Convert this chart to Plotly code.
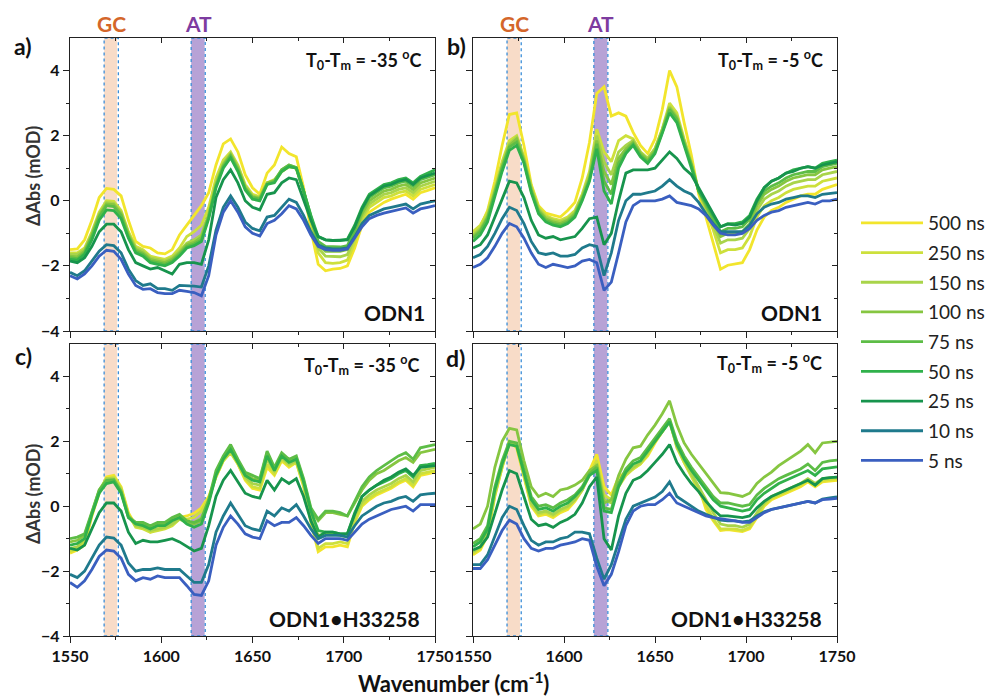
import plotly.graph_objects as go

# the page body has an 8 px margin, so the figure is drawn 8 px in from the window corner
OFF = 8
W, H = 995 - OFF, 697 - OFF
FONT = "Lato"

WN = [1550, 1554, 1558, 1562, 1566, 1570, 1574, 1578, 1582, 1586,
      1590, 1594, 1598, 1602, 1606, 1610, 1614, 1618, 1622, 1626,
      1630, 1634, 1638, 1642, 1646, 1650, 1654, 1658, 1662, 1666,
      1670, 1674, 1678, 1682, 1686, 1690, 1694, 1698, 1702, 1706,
      1710, 1714, 1718, 1722, 1726, 1730, 1734, 1738, 1742, 1746,
      1750]

LABELS = ["500 ns", "250 ns", "150 ns", "100 ns", "75 ns", "50 ns", "25 ns", "10 ns", "5 ns"]
COLORS = ["#f2e52c", "#cde03c", "#a9d44a", "#86c641", "#5dbd46", "#30b14b", "#17944d", "#1f7a8c", "#3a5fc0"]

# ---- panel a: ODN1, T0-Tm = -35 C ----
a_500 = [-1.5, -1.48, -1.2, -0.6, 0.1, 0.38, 0.35, 0.15, -0.6, -1.25,
         -1.4, -1.45, -1.6, -1.63, -1.5, -1.05, -0.75, -0.45, -0.15, 0.25,
         1.1, 1.75, 1.9, 1.5, 0.8, 0.4, 0.2, 0.85, 1.1, 1.65,
         1.45, 1.35, 0.4, -0.9, -1.95, -2.15, -2.1, -2.08, -2.0, -1.45,
         -0.75, -0.35, -0.2, -0.05, 0.05, 0.12, 0.2, 0.05, 0.25, 0.32,
         0.4]
a_250 = [-1.6, -1.6, -1.45, -0.95, -0.35, 0.0, -0.02, -0.3, -0.95, -1.4,
         -1.5, -1.7, -1.75, -1.8, -1.7, -1.45, -1.1, -0.95, -0.75, -0.2,
         0.7, 1.25, 1.5, 1.1, 0.5, 0.2, 0.12, 0.55, 0.65, 0.9,
         1.05, 1.0, 0.3, -0.7, -1.6, -1.9, -1.92, -1.9, -1.82, -1.3,
         -0.6, -0.2, -0.05, 0.1, 0.15, 0.25, 0.3, 0.15, 0.35, 0.42,
         0.5]
a_150 = [-1.65, -1.65, -1.5, -1.0, -0.4, -0.05, -0.08, -0.35, -1.0, -1.45,
         -1.55, -1.75, -1.8, -1.85, -1.75, -1.55, -1.3, -1.2, -1.05, -0.4,
         0.55, 1.15, 1.45, 1.05, 0.45, 0.15, 0.1, 0.55, 0.6, 0.9,
         1.05, 1.0, 0.3, -0.6, -1.45, -1.7, -1.72, -1.72, -1.65, -1.15,
         -0.5, -0.1, 0.05, 0.2, 0.25, 0.35, 0.4, 0.25, 0.45, 0.52,
         0.6]
a_100 = [-1.7, -1.72, -1.55, -1.05, -0.45, -0.1, -0.12, -0.4, -1.05, -1.5,
         -1.6, -1.8, -1.85, -1.9, -1.8, -1.6, -1.35, -1.28, -1.12, -0.45,
         0.5, 1.1, 1.42, 1.0, 0.4, 0.12, 0.08, 0.55, 0.62, 0.95,
         1.1, 1.02, 0.3, -0.55, -1.35, -1.55, -1.55, -1.55, -1.5, -1.0,
         -0.4, 0.0, 0.15, 0.3, 0.35, 0.45, 0.5, 0.35, 0.55, 0.62,
         0.7]
a_75 = [-1.75, -1.78, -1.6, -1.1, -0.5, -0.15, -0.18, -0.45, -1.1, -1.55,
        -1.65, -1.85, -1.9, -1.95, -1.85, -1.65, -1.4, -1.33, -1.2, -0.5,
        0.45, 1.05, 1.38, 0.95, 0.38, 0.1, 0.05, 0.5, 0.6, 0.95,
        1.1, 1.02, 0.3, -0.5, -1.25, -1.4, -1.42, -1.42, -1.38, -0.9,
        -0.3, 0.1, 0.25, 0.4, 0.45, 0.55, 0.6, 0.45, 0.65, 0.72,
        0.8]
a_50 = [-1.8, -1.82, -1.65, -1.2, -0.6, -0.28, -0.3, -0.55, -1.15, -1.6,
        -1.7, -1.9, -1.95, -2.0, -1.9, -1.7, -1.45, -1.38, -1.25, -0.55,
        0.4, 1.0, 1.32, 0.9, 0.33, 0.05, 0.0, 0.5, 0.55, 0.9,
        1.05, 1.0, 0.3, -0.45, -1.1, -1.2, -1.22, -1.22, -1.18, -0.75,
        -0.2, 0.2, 0.35, 0.5, 0.55, 0.65, 0.7, 0.55, 0.75, 0.85,
        0.95]
a_25 = [-1.85, -1.9, -1.75, -1.4, -0.95, -0.72, -0.72, -0.95, -1.5, -1.9,
        -2.0, -2.1, -2.05, -2.15, -2.25, -1.95, -1.9, -1.9, -1.95, -1.2,
        0.1, 0.65, 0.95, 0.55, 0.0, -0.2, -0.28, 0.2, 0.25, 0.55,
        0.7, 0.65, 0.0, -0.6, -1.1, -1.2, -1.22, -1.22, -1.2, -0.8,
        -0.25, 0.15, 0.3, 0.45, 0.5, 0.6, 0.65, 0.5, 0.7, 0.78,
        0.85]
a_10 = [-2.2, -2.3, -2.15, -1.85, -1.55, -1.35, -1.38, -1.6, -2.1, -2.45,
        -2.6, -2.55, -2.7, -2.7, -2.75, -2.6, -2.6, -2.62, -2.65, -2.0,
        -0.9, -0.2, 0.15, -0.2, -0.65, -0.85, -0.92, -0.5, -0.45, -0.2,
        0.05, -0.05, -0.45, -0.95, -1.35, -1.45, -1.48, -1.48, -1.45, -1.1,
        -0.7, -0.45, -0.35, -0.25, -0.2, -0.15, -0.1, -0.25, -0.1, -0.05,
        0.0]
a_5 = [-2.3, -2.4, -2.25, -2.0, -1.7, -1.52, -1.55, -1.8, -2.25, -2.6,
       -2.72, -2.7, -2.82, -2.85, -2.85, -2.75, -2.78, -2.82, -2.92, -2.3,
       -1.05, -0.35, 0.0, -0.35, -0.8, -1.0, -1.08, -0.7, -0.6, -0.4,
       -0.15, -0.25, -0.6, -1.05, -1.4, -1.5, -1.52, -1.52, -1.48, -1.15,
       -0.8, -0.55, -0.45, -0.38, -0.32, -0.28, -0.22, -0.38, -0.25, -0.2,
       -0.15]

# ---- panel b: ODN1, T0-Tm = -5 C ----
b_500 = [-1.05, -0.8, -0.3, 0.6, 1.7, 2.65, 2.7, 1.7, 0.5, -0.15,
         -0.38, -0.45, -0.5, -0.3, -0.05, 0.7, 1.8, 3.3, 3.5, 2.6,
         2.7, 2.6, 2.1, 1.7, 1.45, 1.9, 2.8, 4.0, 3.5, 2.4,
         1.4, 0.2, -0.5, -1.3, -2.1, -1.98, -1.95, -1.9, -1.5, -0.9,
         -0.5, -0.3, -0.2, -0.05, 0.05, 0.15, 0.2, 0.2, 0.35, 0.42,
         0.5]
b_250 = [-0.95, -0.75, -0.35, 0.4, 1.2, 1.85, 2.0, 1.35, 0.45, -0.2,
         -0.45, -0.55, -0.6, -0.5, -0.3, 0.2, 0.9, 2.2, 1.5, 1.2,
         1.85, 2.0, 1.9, 1.5, 1.3, 1.6, 2.2, 3.0, 2.7, 1.9,
         1.2, 0.3, -0.3, -0.9, -1.6, -1.5, -1.5, -1.45, -1.1, -0.5,
         -0.15, 0.0, 0.1, 0.25, 0.35, 0.4, 0.45, 0.45, 0.6, 0.65,
         0.7]
b_150 = [-1.05, -0.85, -0.45, 0.3, 1.1, 1.75, 1.95, 1.3, 0.4, -0.25,
         -0.5, -0.6, -0.65, -0.55, -0.35, 0.15, 0.8, 2.0, 1.2, 0.8,
         1.5, 1.7, 1.85, 1.5, 1.3, 1.6, 2.2, 2.9, 2.6, 1.85,
         1.15, 0.3, -0.2, -0.75, -1.3, -1.2, -1.2, -1.15, -0.85, -0.3,
         0.05, 0.2, 0.3, 0.45, 0.55, 0.6, 0.65, 0.65, 0.8, 0.85,
         0.9]
b_100 = [-1.1, -0.9, -0.5, 0.25, 1.05, 1.7, 1.9, 1.25, 0.35, -0.3,
         -0.55, -0.65, -0.7, -0.6, -0.4, 0.1, 0.7, 1.85, 0.9, 0.5,
         1.3, 1.6, 1.8, 1.45, 1.25, 1.55, 2.15, 2.85, 2.55, 1.8,
         1.1, 0.3, -0.15, -0.65, -1.1, -1.0, -1.0, -0.95, -0.7, -0.15,
         0.2, 0.35, 0.45, 0.6, 0.7, 0.75, 0.8, 0.8, 0.95, 1.0,
         1.05]
b_75 = [-1.15, -0.95, -0.55, 0.2, 1.0, 1.65, 1.8, 1.2, 0.3, -0.35,
        -0.6, -0.7, -0.75, -0.65, -0.45, 0.05, 0.65, 1.75, 0.6, 0.2,
        1.15, 1.5, 1.75, 1.4, 1.2, 1.5, 2.1, 2.8, 2.5, 1.75,
        1.1, 0.3, -0.1, -0.55, -0.95, -0.85, -0.85, -0.8, -0.55, -0.05,
        0.3, 0.45, 0.55, 0.7, 0.8, 0.85, 0.9, 0.9, 1.05, 1.1,
        1.15]
b_50 = [-1.25, -1.05, -0.65, 0.1, 0.9, 1.55, 1.7, 1.15, 0.25, -0.4,
        -0.65, -0.75, -0.8, -0.7, -0.5, 0.0, 0.6, 1.6, 0.3, -0.1,
        1.0, 1.45, 1.7, 1.35, 1.15, 1.45, 2.05, 2.7, 2.4, 1.7,
        1.05, 0.3, -0.05, -0.45, -0.8, -0.7, -0.7, -0.65, -0.45, 0.05,
        0.4, 0.6, 0.7, 0.85, 0.95, 1.0, 1.05, 1.0, 1.15, 1.2,
        1.25]
b_25 = [-1.45, -1.35, -1.05, -0.5, 0.1, 0.6, 0.55, 0.1, -0.6, -1.05,
        -1.15, -1.1, -1.2, -1.15, -1.1, -0.85, -0.55, -0.5, -1.35, -1.0,
        0.0, 0.85, 0.95, 0.95, 0.95, 1.0, 1.25, 1.5, 1.3, 1.0,
        0.8, 0.4, 0.0, -0.4, -0.8, -0.72, -0.75, -0.7, -0.5, 0.0,
        0.4, 0.6, 0.7, 0.85, 0.9, 1.0, 1.05, 1.0, 1.1, 1.15,
        1.2]
b_10 = [-1.75, -1.65, -1.4, -1.0, -0.55, -0.2, -0.3, -0.7, -1.25, -1.6,
        -1.65, -1.6, -1.7, -1.7, -1.65, -1.45, -1.35, -1.4, -2.3, -1.6,
        -0.6, 0.0, 0.2, 0.2, 0.25, 0.3, 0.45, 0.65, 0.45, 0.3,
        0.2, -0.05, -0.4, -0.7, -0.95, -0.95, -0.95, -0.95, -0.75, -0.4,
        -0.2, -0.1, -0.05, 0.05, 0.1, 0.15, 0.15, 0.1, 0.2, 0.22,
        0.25]
b_5 = [-2.05, -1.95, -1.75, -1.4, -1.0, -0.7, -0.8, -1.15, -1.6, -1.95,
       -2.05, -1.95, -2.0, -2.05, -2.0, -1.85, -1.8, -1.9, -2.75, -2.5,
       -1.6, -0.65, -0.15, 0.0, 0.0, 0.0, 0.05, 0.15, -0.05, -0.1,
       -0.15, -0.25, -0.45, -0.75, -1.0, -1.05, -1.05, -1.0, -0.85, -0.6,
       -0.45, -0.35, -0.3, -0.2, -0.15, -0.1, -0.05, -0.1, 0.0, 0.0,
       0.05]

# ---- panel c: ODN1*H33258, T0-Tm = -35 C ----
c_500 = [-1.45, -1.35, -1.2, -0.3, 0.4, 0.9, 0.95, 0.6, -0.2, -0.6,
         -0.65, -0.8, -0.7, -0.65, -0.55, -0.35, -0.3, -0.22, -0.05, 0.3,
         0.9, 1.4, 1.7, 1.3, 0.8, 0.55, 0.5, 1.2, 0.95, 1.4,
         1.2, 1.35, 0.6, -0.5, -1.4, -1.25, -1.25, -1.2, -1.25, -0.5,
         0.0, 0.2, 0.35, 0.45, 0.55, 0.7, 0.8, 0.6, 0.95, 1.0,
         1.05]
c_250 = [-1.4, -1.3, -1.1, -0.25, 0.45, 0.85, 0.9, 0.55, -0.25, -0.65,
         -0.7, -0.8, -0.75, -0.7, -0.6, -0.4, -0.4, -0.35, -0.15, 0.25,
         0.9, 1.4, 1.65, 1.3, 0.85, 0.6, 0.55, 1.3, 1.0, 1.45,
         1.25, 1.35, 0.65, -0.45, -1.3, -1.15, -1.15, -1.1, -1.15, -0.45,
         0.05, 0.25, 0.4, 0.5, 0.6, 0.75, 0.85, 0.65, 1.0, 1.05,
         1.1]
c_150 = [-1.3, -1.25, -1.0, -0.2, 0.5, 0.85, 0.85, 0.5, -0.3, -0.6,
         -0.65, -0.75, -0.7, -0.65, -0.55, -0.4, -0.5, -0.5, -0.35, 0.2,
         0.95, 1.45, 1.7, 1.35, 0.9, 0.7, 0.65, 1.45, 1.1, 1.5,
         1.3, 1.4, 0.7, -0.3, -0.9, -0.85, -0.85, -0.9, -0.95, -0.3,
         0.15, 0.35, 0.5, 0.6, 0.7, 0.85, 0.95, 0.75, 1.1, 1.15,
         1.2]
c_100 = [-1.1, -1.05, -0.9, -0.2, 0.45, 0.75, 0.8, 0.45, -0.3, -0.5,
         -0.55, -0.65, -0.55, -0.55, -0.4, -0.3, -0.5, -0.55, -0.45, 0.15,
         1.0, 1.5, 1.8, 1.4, 1.0, 0.85, 0.8, 1.65, 1.15, 1.6,
         1.4, 1.5, 0.8, -0.1, -0.45, -0.2, -0.2, -0.25, -0.3, 0.1,
         0.5, 0.8, 1.0, 1.1, 1.25, 1.4, 1.5, 1.35, 1.65, 1.7,
         1.75]
c_75 = [-1.0, -0.95, -0.85, -0.15, 0.5, 0.8, 0.82, 0.45, -0.35, -0.5,
        -0.5, -0.6, -0.5, -0.5, -0.35, -0.25, -0.45, -0.5, -0.4, 0.2,
        1.1, 1.55, 1.9, 1.45, 1.05, 0.95, 0.85, 1.7, 1.2, 1.65,
        1.45, 1.55, 0.85, -0.05, -0.4, -0.15, -0.15, -0.2, -0.3, 0.15,
        0.6, 0.9, 1.1, 1.25, 1.4, 1.55, 1.65, 1.45, 1.8, 1.85,
        1.9]
c_50 = [-1.2, -1.15, -1.0, -0.25, 0.4, 0.7, 0.75, 0.4, -0.35, -0.55,
        -0.6, -0.7, -0.6, -0.6, -0.45, -0.35, -0.55, -0.65, -0.55, 0.1,
        0.95, 1.45, 1.75, 1.35, 0.95, 0.8, 0.75, 1.55, 1.1, 1.55,
        1.35, 1.45, 0.75, -0.15, -0.75, -0.8, -0.8, -0.85, -0.85, -0.2,
        0.3, 0.5, 0.65, 0.75, 0.85, 1.0, 1.1, 0.9, 1.25, 1.28,
        1.32]
c_25 = [-1.3, -1.35, -1.2, -0.7, -0.2, 0.1, 0.1, -0.15, -0.8, -1.15,
        -1.05, -1.1, -1.1, -1.05, -1.0, -1.1, -1.25, -1.38, -1.3, -0.6,
        0.3, 0.8, 1.1, 0.75, 0.4, 0.3, 0.25, 0.8, 0.5, 0.85,
        0.7, 0.85, 0.3, -0.45, -0.95, -0.8, -0.8, -0.85, -0.85, -0.25,
        0.3, 0.5, 0.65, 0.8, 0.9, 1.05, 1.15, 0.95, 1.2, 1.22,
        1.25]
c_10 = [-2.1, -2.2, -2.0, -1.6, -1.2, -0.95, -0.98, -1.2, -1.75, -2.0,
        -1.95, -1.95, -1.9, -1.95, -1.95, -1.95, -2.15, -2.35, -2.35, -1.8,
        -0.8, -0.3, 0.1, -0.25, -0.6, -0.7, -0.75, -0.15, -0.3, -0.05,
        -0.15, 0.05, -0.3, -0.7, -1.0, -0.9, -0.9, -0.9, -0.95, -0.6,
        -0.3, -0.15, 0.0, 0.1, 0.15, 0.25, 0.3, 0.15, 0.35, 0.38,
        0.4]
c_5 = [-2.35, -2.5, -2.3, -1.95, -1.55, -1.35, -1.38, -1.6, -2.1, -2.3,
       -2.2, -2.25, -2.15, -2.2, -2.2, -2.2, -2.45, -2.72, -2.75, -2.3,
       -1.2, -0.65, -0.3, -0.55, -0.85, -0.95, -1.0, -0.45, -0.6, -0.5,
       -0.5, -0.35, -0.6, -0.9, -1.15, -1.0, -1.0, -1.0, -1.05, -0.8,
       -0.55, -0.4, -0.3, -0.2, -0.1, -0.05, 0.0, -0.15, 0.05, 0.05,
       0.05]

# ---- panel d: ODN1*H33258, T0-Tm = -5 C ----
d_500 = [-1.5, -1.35, -0.9, 0.3, 1.2, 2.0, 1.8, 0.9, 0.0, -0.3,
         -0.25, -0.35, -0.2, -0.1, 0.15, 0.5, 1.1, 1.6, 0.6, 0.35,
         0.9, 1.05, 1.15, 1.3, 1.55, 1.95, 2.3, 2.65, 1.9, 1.35,
         0.95, 0.6, -0.1, -0.45, -0.75, -0.72, -0.75, -0.78, -0.7, -0.35,
         0.0, 0.2, 0.3, 0.4, 0.5, 0.6, 0.75, 0.6, 0.75, 0.78,
         0.8]
d_250 = [-1.45, -1.3, -0.85, 0.35, 1.2, 1.95, 1.85, 0.95, 0.05, -0.25,
         -0.2, -0.3, -0.15, -0.05, 0.2, 0.5, 1.0, 1.4, 0.35, 0.2,
         0.6, 0.95, 1.15, 1.3, 1.6, 2.0, 2.3, 2.65, 1.8, 1.35,
         0.9, 0.5, 0.0, -0.4, -0.7, -0.7, -0.7, -0.75, -0.65, -0.3,
         0.05, 0.25, 0.35, 0.45, 0.55, 0.65, 0.8, 0.65, 0.8, 0.82,
         0.85]
d_150 = [-1.4, -1.25, -0.8, 0.4, 1.25, 1.95, 1.9, 1.0, 0.1, -0.2,
         -0.15, -0.25, -0.1, 0.0, 0.2, 0.5, 0.95, 1.3, 0.2, 0.1,
         0.65, 1.0, 1.2, 1.35, 1.65, 2.0, 2.3, 2.6, 1.85, 1.4,
         1.0, 0.6, 0.2, -0.2, -0.55, -0.6, -0.6, -0.65, -0.55, -0.2,
         0.1, 0.3, 0.4, 0.5, 0.6, 0.7, 0.85, 0.7, 0.85, 0.88,
         0.9]
d_100 = [-0.7, -0.55, 0.0, 1.2, 2.0, 2.4, 2.35, 1.4, 0.6, 0.3,
         0.4, 0.3, 0.5, 0.55, 0.65, 0.8, 1.1, 1.25, 0.1, 0.2,
         0.95, 1.45, 1.8, 1.85, 2.2, 2.5, 2.85, 3.25, 2.5, 1.95,
         1.6, 1.3, 1.0, 0.7, 0.42, 0.4, 0.35, 0.3, 0.4, 0.7,
         0.9, 1.05, 1.25, 1.4, 1.55, 1.7, 1.9, 1.65, 1.95, 1.97,
         2.0]
d_75 = [-1.15, -1.0, -0.6, 0.6, 1.4, 2.0, 1.95, 1.1, 0.3, 0.0,
        0.05, -0.05, 0.1, 0.2, 0.35, 0.6, 1.0, 1.2, -0.05, -0.1,
        0.7, 1.15, 1.4, 1.5, 1.8, 2.1, 2.4, 2.7, 2.0, 1.55,
        1.2, 0.9, 0.6, 0.3, 0.1, 0.1, 0.05, 0.0, 0.05, 0.35,
        0.55, 0.7, 0.85, 0.95, 1.05, 1.15, 1.3, 1.1, 1.35, 1.4,
        1.42]
d_50 = [-1.25, -1.1, -0.7, 0.5, 1.3, 1.9, 1.85, 1.0, 0.2, -0.1,
        -0.05, -0.15, 0.0, 0.1, 0.3, 0.55, 0.95, 1.1, -0.15, -0.2,
        0.6, 1.05, 1.3, 1.4, 1.7, 2.0, 2.3, 2.6, 1.9, 1.45,
        1.1, 0.8, 0.5, 0.2, 0.0, -0.05, -0.1, -0.15, -0.1, 0.2,
        0.4, 0.55, 0.7, 0.8, 0.9, 1.0, 1.1, 0.95, 1.15, 1.18,
        1.21]
d_25 = [-1.35, -1.25, -0.95, -0.2, 0.5, 1.1, 1.0, 0.3, -0.4, -0.6,
        -0.55, -0.65, -0.5, -0.4, -0.25, 0.1, 0.6, 0.9, -1.0, -1.35,
        -0.3, 0.4, 0.8, 0.9, 1.1, 1.35, 1.6, 1.9, 1.35, 1.0,
        0.7, 0.45, 0.15, -0.1, -0.3, -0.3, -0.32, -0.35, -0.3, -0.05,
        0.15, 0.3, 0.4, 0.5, 0.6, 0.7, 0.8, 0.65, 0.85, 0.88,
        0.9]
d_10 = [-1.8, -1.8, -1.5, -0.9, -0.35, 0.0, -0.1, -0.6, -1.05, -1.2,
        -1.1, -1.1, -1.0, -0.95, -0.8, -0.8, -0.85, -1.6, -2.25, -1.8,
        -1.1, -0.4, 0.0, 0.1, 0.2, 0.28, 0.45, 0.75, 0.3, 0.15,
        0.0, -0.15, -0.25, -0.35, -0.43, -0.45, -0.45, -0.48, -0.45, -0.3,
        -0.17, -0.1, -0.05, 0.0, 0.05, 0.1, 0.15, 0.1, 0.22, 0.26,
        0.29]
d_5 = [-1.92, -1.92, -1.65, -1.2, -0.75, -0.43, -0.55, -1.0, -1.3, -1.38,
       -1.3, -1.3, -1.2, -1.15, -1.1, -1.0, -1.05, -1.85, -2.45, -2.1,
       -1.4, -0.6, -0.15, 0.0, 0.05, 0.05, 0.2, 0.4, 0.1, 0.0,
       -0.1, -0.2, -0.3, -0.35, -0.38, -0.4, -0.45, -0.5, -0.5, -0.35,
       -0.2, -0.1, -0.05, 0.0, 0.05, 0.1, 0.15, 0.1, 0.2, 0.22,
       0.24]

PANEL_A = [a_500, a_250, a_150, a_100, a_75, a_50, a_25, a_10, a_5]
PANEL_B = [b_500, b_250, b_150, b_100, b_75, b_50, b_25, b_10, b_5]
PANEL_C = [c_500, c_250, c_150, c_100, c_75, c_50, c_25, c_10, c_5]
PANEL_D = [d_500, d_250, d_150, d_100, d_75, d_50, d_25, d_10, d_5]

X_TICKS = [1550, 1600, 1650, 1700, 1750]
X_MINOR = [1575, 1625, 1675, 1725]
Y_TICKS = [-4, -2, 0, 2, 4]
Y_MINOR = [-3, -1, 1, 3]

GC_BAND = (1568.7, 1575.8, 1576.5)   # fill start, fill end, dashed right edge
AT_BAND = (1616.4, 1623.8, 1624.1)


def px_x(p):
    """window pixel -> paper fraction"""
    return (p - OFF) / W


def px_y(p):
    return 1 - (p - OFF) / H


XD_L = [px_x(70), px_x(435)]
XD_R = [px_x(473), px_x(837)]
YD_T = [px_y(331), px_y(38)]
YD_B = [px_y(636), px_y(344)]

AX_COLOR = "#222222"
TICKFONT = dict(family=FONT, size=16, color="#111111", weight="bold")

fig = go.Figure()

panels = [
    (PANEL_A, "x", "y"),
    (PANEL_B, "x2", "y2"),
    (PANEL_C, "x3", "y3"),
    (PANEL_D, "x4", "y4"),
]
for pi, (series, xa, ya) in enumerate(panels):
    for si, ys in enumerate(series):
        fig.add_trace(go.Scatter(
            x=WN, y=ys, mode="lines", name=LABELS[si],
            line=dict(color=COLORS[si], width=2.8),
            xaxis=xa, yaxis=ya, legendgroup=LABELS[si],
            showlegend=(pi == 0), hoverinfo="x+y+name",
        ))

# empty traces that carry the mirrored (inside) tick axes on top / right
for k in range(5, 9):
    fig.add_trace(go.Scatter(x=[], y=[], xaxis=f"x{k}", yaxis=f"y{k}",
                             showlegend=False, hoverinfo="skip"))


def xaxis(domain, anchor, labels):
    return dict(domain=domain, anchor=anchor, range=[1550, 1750],
                showline=True, linecolor=AX_COLOR, linewidth=1.3, mirror=True,
                ticks="outside", ticklen=6, tickwidth=1.3, tickcolor=AX_COLOR,
                tickvals=X_TICKS, showticklabels=labels, tickfont=TICKFONT,
                minor=dict(tickvals=X_MINOR, ticks="outside", ticklen=3,
                           tickwidth=1.2, tickcolor=AX_COLOR),
                showgrid=False, zeroline=False)


def yaxis(domain, anchor, labels):
    return dict(domain=domain, anchor=anchor, range=[-4, 5],
                showline=True, linecolor=AX_COLOR, linewidth=1.3, mirror=True,
                ticks="outside", ticklen=6, tickwidth=1.3, tickcolor=AX_COLOR,
                tickvals=Y_TICKS, showticklabels=labels, tickfont=TICKFONT,
                minor=dict(tickvals=Y_MINOR, ticks="outside", ticklen=3,
                           tickwidth=1.2, tickcolor=AX_COLOR),
                showgrid=False, zeroline=False)


def xtop(base, anchor):
    return dict(overlaying=base, anchor=anchor, side="top", range=[1550, 1750],
                showline=False, ticks="inside", ticklen=5, tickwidth=1.2,
                tickcolor=AX_COLOR, tickvals=X_TICKS, showticklabels=False,
                minor=dict(tickvals=X_MINOR, ticks="inside", ticklen=3,
                           tickwidth=1.1, tickcolor=AX_COLOR),
                showgrid=False, zeroline=False)


def yright(base, anchor):
    return dict(overlaying=base, anchor=anchor, side="right", range=[-4, 5],
                showline=False, ticks="inside", ticklen=5, tickwidth=1.2,
                tickcolor=AX_COLOR, tickvals=Y_TICKS, showticklabels=False,
                minor=dict(tickvals=Y_MINOR, ticks="inside", ticklen=3,
                           tickwidth=1.1, tickcolor=AX_COLOR),
                showgrid=False, zeroline=False)


shapes = []
for xa, ya in [("x", "y"), ("x2", "y2"), ("x3", "y3"), ("x4", "y4")]:
    yref = f"{ya} domain"
    shapes.append(dict(type="rect", xref=xa, yref=yref, x0=GC_BAND[0], x1=GC_BAND[1],
                       y0=0, y1=1, fillcolor="#f8dcc8", line=dict(width=0), layer="below"))
    shapes.append(dict(type="rect", xref=xa, yref=yref, x0=AT_BAND[0], x1=AT_BAND[1],
                       y0=0, y1=1, fillcolor="#b7a2d6", line=dict(width=0), layer="below"))
    for band in (GC_BAND, AT_BAND):
        shapes.append(dict(type="rect", xref=xa, yref=yref, x0=band[0], x1=band[2],
                           y0=0, y1=1, fillcolor="rgba(0,0,0,0)",
                           line=dict(color="#3b8ed8", width=1.3, dash="dot"), layer="below"))

ann = []


def add_text(text, x, y, size, xanchor="center", color="#111111", weight="bold",
             xref="paper", angle=0):
    ann.append(dict(text=text, x=x, y=y, xref=xref, yref="paper", showarrow=False,
                    xanchor=xanchor, yanchor="middle", textangle=angle,
                    font=dict(family=FONT, size=size, color=color, weight=weight)))


# panel letters
add_text("a)", px_x(23), px_y(46), 23)
add_text("b)", px_x(456), px_y(46), 23)
add_text("c)", px_x(23), px_y(356), 23)
add_text("d)", px_x(455), px_y(358), 23)

# GC / AT labels above the top panels
for xa in ("x", "x2"):
    add_text("GC", (GC_BAND[0] + GC_BAND[2]) / 2, px_y(23), 21, color="#d4662a", xref=xa)
    add_text("AT", (AT_BAND[0] + AT_BAND[2]) / 2, px_y(23), 21, color="#7d3ca0", xref=xa)

# temperature labels
add_text("T<sub>0</sub>-T<sub>m</sub> = -35 <sup>o</sup>C", px_x(424), px_y(60), 18, xanchor="right")
add_text("T<sub>0</sub>-T<sub>m</sub> = -5 <sup>o</sup>C", px_x(825), px_y(60), 18, xanchor="right")
add_text("T<sub>0</sub>-T<sub>m</sub> = -35 <sup>o</sup>C", px_x(422), px_y(365), 18, xanchor="right")
add_text("T<sub>0</sub>-T<sub>m</sub> = -5 <sup>o</sup>C", px_x(824), px_y(363), 18, xanchor="right")

# sample labels
add_text("ODN1", px_x(427), px_y(313), 21, xanchor="right")
add_text("ODN1", px_x(824), px_y(313), 21, xanchor="right")
add_text("ODN1•H33258", px_x(422), px_y(618), 21, xanchor="right")
add_text("ODN1•H33258", px_x(824), px_y(618), 21, xanchor="right")

# axis titles
add_text("ΔAbs (mOD)", px_x(33), px_y(176), 18, angle=-90, color="#333333")
add_text("ΔAbs (mOD)", px_x(33), px_y(494), 18, angle=-90, color="#333333")
add_text("Wavenumber (cm<sup>-1</sup>)", px_x(453), px_y(682), 22)

fig.update_layout(
    width=W, height=H, autosize=False,
    margin=dict(l=0, r=0, t=0, b=0, autoexpand=False),
    paper_bgcolor="white", plot_bgcolor="rgba(0,0,0,0)",
    font=dict(family=FONT, color="#111111"),
    xaxis=xaxis(XD_L, "y", False), yaxis=yaxis(YD_T, "x", True),
    xaxis2=xaxis(XD_R, "y2", False), yaxis2=yaxis(YD_T, "x2", False),
    xaxis3=xaxis(XD_L, "y3", True), yaxis3=yaxis(YD_B, "x3", True),
    xaxis4=xaxis(XD_R, "y4", True), yaxis4=yaxis(YD_B, "x4", False),
    xaxis5=xtop("x", "y"), yaxis5=yright("y", "x"),
    xaxis6=xtop("x2", "y2"), yaxis6=yright("y2", "x2"),
    xaxis7=xtop("x3", "y3"), yaxis7=yright("y3", "x3"),
    xaxis8=xtop("x4", "y4"), yaxis8=yright("y4", "x4"),
    shapes=shapes, annotations=ann,
    legend=dict(x=px_x(856), y=px_y(204), xanchor="left", yanchor="top",
                font=dict(family=FONT, size=19, color="#222222"),
                itemwidth=62, tracegroupgap=2, bgcolor="rgba(0,0,0,0)",
                traceorder="grouped"),
    showlegend=True,
)

fig.write_html("out.html")
